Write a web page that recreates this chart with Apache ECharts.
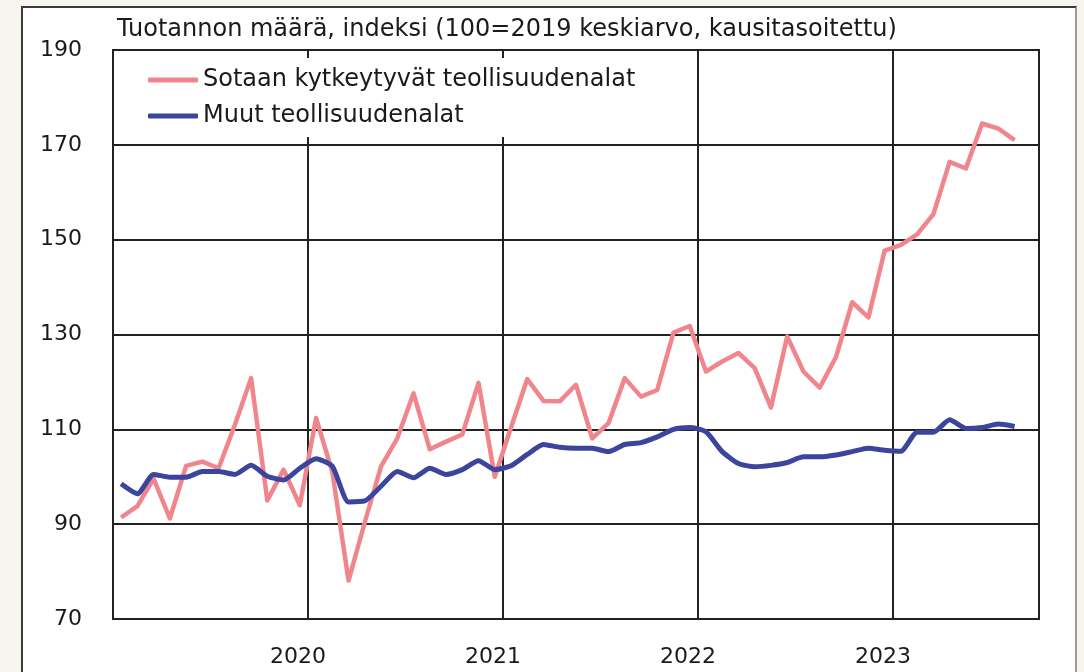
<!DOCTYPE html>
<html>
<head>
<meta charset="utf-8">
<script src="https://cdn.jsdelivr.net/npm/echarts@6/dist/echarts.min.js"></script>
<style>
  html, body { margin: 0; padding: 0; background: #f8f4ee; }
  #panel { position: absolute; left: 21px; top: 6px; width: 1052px; height: 700px; background: #ffffff; border: 2px solid #3a3a3a; border-right-color: #9a9a9a; }
  #chart { position: absolute; left: 0; top: 0; width: 1084px; height: 672px; }
</style>
</head>
<body>
<div id="panel"></div>
<div id="chart"></div>
<script>
// Months Jan 2019 .. Sep 2023 (axis categories)
const years = [2019, 2020, 2021, 2022, 2023];
const months = [];
years.forEach(function (y) {
  for (let m = 1; m <= 12; m++) {
    if (y === 2023 && m > 9) break;
    months.push(y + '-' + (m < 10 ? '0' + m : m));
  }
});
const yTicks = [70, 90, 110, 130, 150, 170, 190];

const titleText = 'Tuotannon määrä, indeksi (100=2019 keskiarvo, kausitasoitettu)';
const seriesNames = ['Sotaan kytkeytyvät teollisuudenalat', 'Muut teollisuudenalat'];

// Sotaan kytkeytyvät teollisuudenalat (Jan 2019 .. Aug 2023)
const warRelated = [
  91.4, 93.8, 99.6, 91.2, 102.3, 103.2, 101.8, 110.9, 120.8, 95,
  101.5, 94, 112.4, 101, 78.1, 90.4, 102.2, 108.1, 117.6, 105.8,
  107.4, 108.9, 119.8, 100, 110.4, 120.6, 116, 115.9, 119.4, 108.1,
  111.3, 120.8, 116.9, 118.3, 130.4, 131.8, 122.2, 124.3, 126.1, 122.9,
  114.6, 129.6, 122.2, 118.8, 125.2, 136.8, 133.6, 147.7, 148.9, 151.1,
  155.4, 166.4, 165, 174.5, 173.4, 171
];
// Muut teollisuudenalat
const otherIndustries = [
  98.5, 96.4, 100.5, 99.9, 99.9, 101.1, 101.1, 100.5, 102.4, 100.1,
  99.3, 101.8, 103.8, 102.2, 94.7, 94.9, 98, 101.1, 99.8, 101.8,
  100.5, 101.5, 103.4, 101.5, 102.3, 104.7, 106.8, 106.2, 106, 106,
  105.3, 106.8, 107.2, 108.4, 110, 110.4, 109.5, 105.3, 102.8, 102.1,
  102.4, 103, 104.2, 104.2, 104.6, 105.3, 106, 105.6, 105.4, 109.4,
  109.4, 112, 110.2, 110.4, 111.1, 110.6
];

const FONT = 'DejaVu Sans';
const chart = echarts.init(document.getElementById('chart'), null, { renderer: 'canvas' });
chart.setOption({
  backgroundColor: 'transparent',
  animation: false,
  title: {
    text: titleText,
    left: 117,
    top: 18,
    padding: 0,
    textStyle: { fontFamily: FONT, fontSize: 24, fontWeight: 'normal', color: '#1a1a1a' }
  },
  legend: {
    orient: 'vertical',
    left: 115,
    top: 58,
    padding: [9, 14, 8, 33],
    backgroundColor: '#ffffff',
    itemGap: 10,
    itemWidth: 50,
    itemHeight: 5,
    icon: 'roundRect',
    data: seriesNames,
    textStyle: { fontFamily: FONT, fontSize: 24, color: '#1a1a1a', lineHeight: 26 }
  },
  grid: {
    left: 113, right: 45, top: 50, bottom: 53,
    show: true, borderColor: '#222', borderWidth: 2, backgroundColor: 'transparent'
  },
  xAxis: {
    type: 'category',
    data: months,
    boundaryGap: true,
    axisLine: { show: true, lineStyle: { color: '#222', width: 2 } },
    axisTick: { show: false },
    splitLine: { show: true, interval: 11, lineStyle: { color: '#222', width: 2 } },
    axisLabel: {
      interval: function (idx) { return idx % 12 === 0 && idx > 0; },
      formatter: function (v) { return v.slice(0, 4); },
      fontFamily: FONT, fontSize: 22, color: '#1a1a1a', margin: 27,
      padding: [0, 36, 0, 0]
    }
  },
  yAxis: {
    type: 'value',
    min: yTicks[0], max: yTicks[yTicks.length - 1], interval: 20,
    axisLine: { show: true, lineStyle: { color: '#222', width: 2 } },
    axisTick: { show: false },
    splitLine: { show: true, lineStyle: { color: '#222', width: 2 } },
    axisLabel: { fontFamily: FONT, fontSize: 22, color: '#1a1a1a', margin: 31 }
  },
  series: [
    {
      name: seriesNames[0], type: 'line', data: warRelated,
      showSymbol: false, symbol: 'none', z: 3,
      itemStyle: { color: '#f0868c' },
      lineStyle: { color: '#f0868c', width: 4.5, join: 'round' }
    },
    {
      name: seriesNames[1], type: 'line', data: otherIndustries,
      showSymbol: false, symbol: 'none', z: 4, smooth: 0.2,
      itemStyle: { color: '#3b459e' },
      lineStyle: { color: '#3b459e', width: 5, join: 'round' }
    }
  ]
});
</script>
</body>
</html>
